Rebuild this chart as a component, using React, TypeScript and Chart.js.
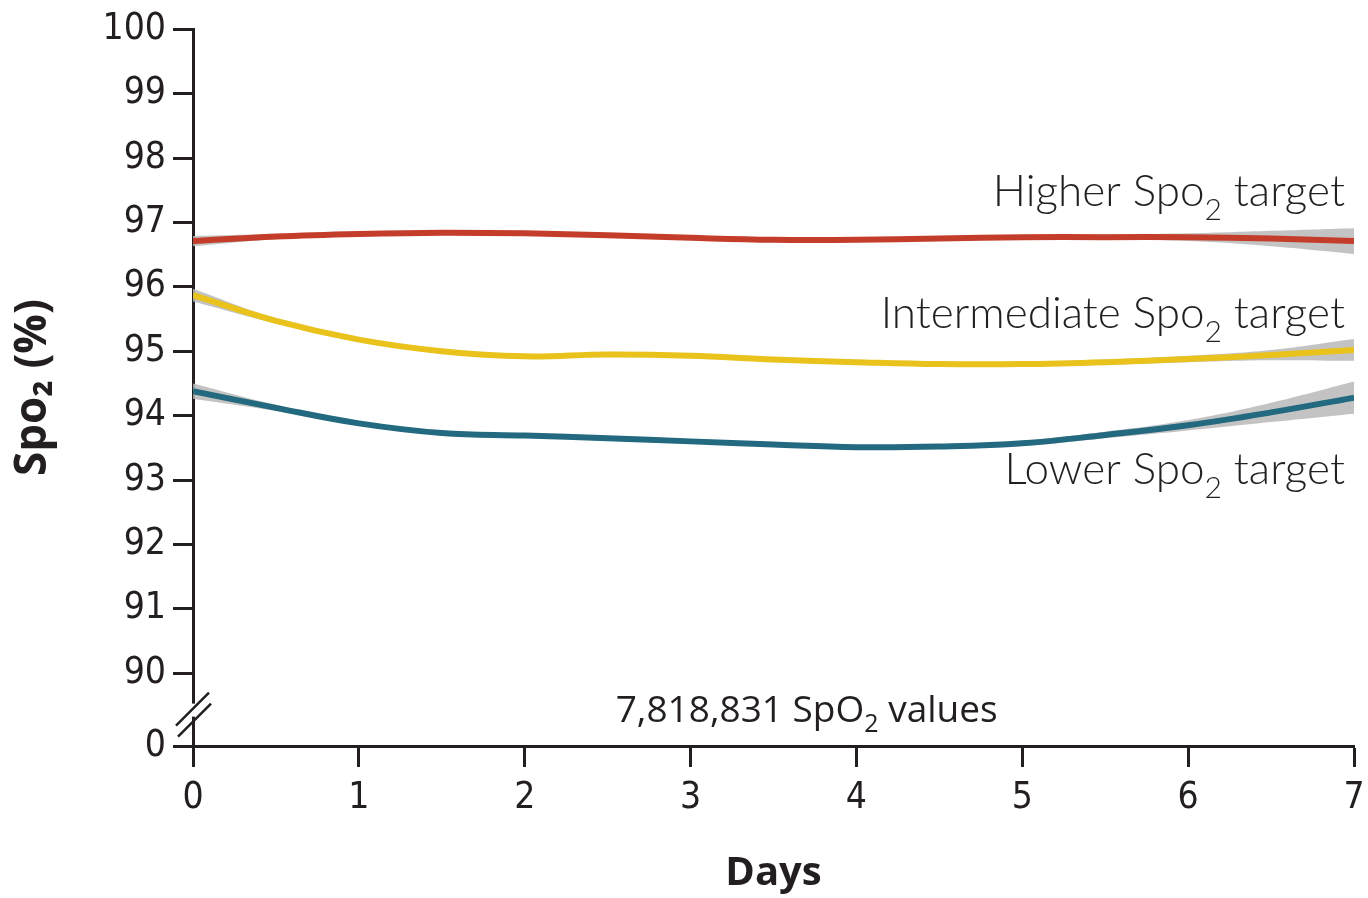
import React, { useEffect, useRef } from "react";
import { Chart, registerables } from "chart.js";

Chart.register(...registerables);

// ---- data ----
const days = [0, 0.5, 1, 1.5, 2, 2.5, 3, 3.5, 4, 4.5, 5, 5.5, 6, 6.5, 7];

const higherMean = [96.71, 96.78, 96.82, 96.84, 96.83, 96.8, 96.76, 96.73, 96.73, 96.75, 96.77, 96.77, 96.77, 96.75, 96.71];
const higherLower = [96.63, 96.74, 96.79, 96.81, 96.8, 96.77, 96.73, 96.7, 96.7, 96.72, 96.74, 96.73, 96.71, 96.63, 96.51];
const higherUpper = [96.79, 96.82, 96.85, 96.87, 96.86, 96.83, 96.79, 96.76, 96.76, 96.78, 96.8, 96.81, 96.83, 96.87, 96.91];

const intermediateMean = [95.87, 95.47, 95.18, 95.0, 94.92, 94.95, 94.93, 94.87, 94.83, 94.8, 94.8, 94.83, 94.88, 94.94, 95.02];
const intermediateLower = [95.77, 95.43, 95.15, 94.97, 94.89, 94.92, 94.9, 94.84, 94.8, 94.77, 94.77, 94.79, 94.83, 94.86, 94.85];
const intermediateUpper = [95.97, 95.51, 95.21, 95.03, 94.95, 94.98, 94.96, 94.9, 94.86, 94.83, 94.83, 94.87, 94.93, 95.02, 95.19];

const lowerMean = [94.38, 94.12, 93.88, 93.73, 93.69, 93.65, 93.6, 93.55, 93.51, 93.52, 93.57, 93.7, 93.85, 94.05, 94.28];
const lowerLower = [94.26, 94.07, 93.85, 93.7, 93.66, 93.62, 93.57, 93.52, 93.48, 93.49, 93.53, 93.65, 93.77, 93.9, 94.03];
const lowerUpper = [94.5, 94.17, 93.91, 93.76, 93.72, 93.68, 93.63, 93.58, 93.54, 93.55, 93.61, 93.75, 93.93, 94.2, 94.53];

const xTickValues = [0, 1, 2, 3, 4, 5, 6, 7];
const yTickValues = [90, 91, 92, 93, 94, 95, 96, 97, 98, 99, 100];
const brokenZeroValue = 88.87; // scale value at which the "0" of the broken axis is drawn
const brokenZeroLabel = "0";

const seriesNames = ["Higher", "Intermediate", "Lower"];
const seriesColors = ["#C43D2A", "#E9C21B", "#23697F"];
const labelAnchors = [97.26, 95.36, 92.94]; // baselines of the right-hand labels (in SpO2 units)
const countText = ["7,818,831 SpO", "2", " values"];

const INK = "#231F20";
const BAND = "rgba(185,185,185,0.85)";

function drawSubText(
  ctx: CanvasRenderingContext2D,
  parts: string[],
  x: number,
  y: number,
  font: string,
  subFont: string,
  subDrop: number,
  align: "right" | "center"
) {
  ctx.save();
  ctx.fillStyle = INK;
  ctx.textBaseline = "alphabetic";
  ctx.textAlign = "left";
  ctx.font = font;
  const w0 = ctx.measureText(parts[0]).width;
  const w2 = ctx.measureText(parts[2]).width;
  ctx.font = subFont;
  const w1 = ctx.measureText(parts[1]).width;
  const total = w0 + w1 + w2;
  let sx = align === "right" ? x - total : x - total / 2;
  ctx.font = font;
  ctx.fillText(parts[0], sx, y);
  sx += w0;
  ctx.font = subFont;
  ctx.fillText(parts[1], sx, y + subDrop);
  sx += w1;
  ctx.font = font;
  ctx.fillText(parts[2], sx, y);
  ctx.restore();
}

const annotatePlugin = {
  id: "annotate",
  afterDraw(chart: any) {
    const { ctx, scales } = chart;
    const x = scales.x;
    const y = scales.y;
    const axisX = x.getPixelForValue(0);
    const y90 = y.getPixelForValue(90);
    const y0 = y.getPixelForValue(brokenZeroValue);
    const mid = (y90 + y0) / 2;

    // axis break
    ctx.save();
    ctx.fillStyle = "#ffffff";
    ctx.fillRect(axisX - 3, mid - 6, 6, 13);
    ctx.strokeStyle = INK;
    ctx.lineWidth = 2.5;
    ctx.beginPath();
    ctx.moveTo(axisX - 17, mid + 16);
    ctx.lineTo(axisX + 16, mid - 17);
    ctx.moveTo(axisX - 15, mid + 27);
    ctx.lineTo(axisX + 18, mid - 6);
    ctx.stroke();
    ctx.restore();

    // right-hand series labels
    const right = x.getPixelForValue(7) - 9;
    seriesNames.forEach((name, i) => {
      drawSubText(
        ctx,
        [name + " Spo", "2", " target"],
        right,
        y.getPixelForValue(labelAnchors[i]),
        "300 44px Lato",
        "300 30px Lato",
        14,
        "right"
      );
    });

    // count text
    drawSubText(
      ctx,
      countText,
      x.getPixelForValue(3.7),
      y.getPixelForValue(89.24),
      "37px 'Open Sans'",
      "25px 'Open Sans'",
      10,
      "center"
    );
  },
};

export default function App() {
  const ref = useRef<HTMLCanvasElement | null>(null);

  useEffect(() => {
    document.body.style.margin = "0";
    const canvas = ref.current;
    if (!canvas) return;

    const pts = (ys: number[]) => days.map((d, i) => ({ x: d, y: ys[i] }));
    const groups = [
      [higherMean, higherLower, higherUpper],
      [intermediateMean, intermediateLower, intermediateUpper],
      [lowerMean, lowerLower, lowerUpper],
    ];
    const datasets: any[] = [];
    groups.forEach(([mean, lo, hi], i) => {
      datasets.push({
        label: seriesNames[i] + " lower CI",
        data: pts(lo),
        borderWidth: 0,
        pointRadius: 0,
        fill: false,
        tension: 0.4,
        order: 2,
      });
      datasets.push({
        label: seriesNames[i] + " upper CI",
        data: pts(hi),
        borderWidth: 0,
        pointRadius: 0,
        backgroundColor: BAND,
        fill: "-1",
        tension: 0.4,
        order: 2,
      });
    });
    groups.forEach(([mean], i) => {
      datasets.push({
        label: seriesNames[i],
        data: pts(mean),
        borderColor: seriesColors[i],
        borderWidth: 6,
        pointRadius: 0,
        fill: false,
        tension: 0.4,
        order: 1,
      });
    });

    const chart = new Chart(canvas, {
      type: "line",
      data: { datasets },
      plugins: [annotatePlugin],
      options: {
        animation: false,
        responsive: true,
        maintainAspectRatio: false,
        layout: { padding: { top: 26, right: 14, left: 0, bottom: 0 } },
        plugins: { legend: { display: false }, tooltip: { enabled: false } },
        scales: {
          x: {
            type: "linear",
            min: 0,
            max: 7,
            afterBuildTicks: (s: any) => {
              s.ticks = xTickValues.map((v) => ({ value: v }));
            },
            afterFit: (s: any) => {
              s.height = 152;
              s.paddingLeft = 0;
              s.paddingRight = 0;
            },
            border: { display: true, color: INK, width: 3 },
            grid: {
              display: true,
              drawOnChartArea: false,
              drawTicks: true,
              tickLength: 21,
              tickColor: INK,
              tickWidth: 3,
            },
            ticks: {
              color: INK,
              padding: 9,
              maxRotation: 0,
              font: { family: "'DejaVu Sans Condensed'", size: 37 },
            },
            title: {
              display: true,
              text: "Days",
              color: INK,
              font: { family: "'Open Sans'", size: 40, weight: "bold" },
              padding: { top: 0, bottom: 0 },
            },
          },
          y: {
            type: "linear",
            min: brokenZeroValue,
            max: 100,
            afterBuildTicks: (s: any) => {
              s.ticks = [{ value: brokenZeroValue }, ...yTickValues.map((v) => ({ value: v }))];
            },
            afterFit: (s: any) => {
              s.width = 193;
            },
            border: { display: true, color: INK, width: 3 },
            grid: {
              display: true,
              drawOnChartArea: false,
              drawTicks: true,
              tickLength: 20,
              tickColor: INK,
              tickWidth: 3,
            },
            ticks: {
              color: INK,
              padding: 7,
              font: { family: "'DejaVu Sans Condensed'", size: 37 },
              callback: (v: any) => (v < 90 ? brokenZeroLabel : String(v)),
            },
            title: {
              display: true,
              text: "Spo₂ (%)",
              color: INK,
              font: { family: "'Open Sans'", size: 44, weight: "bold" },
              padding: { top: 7, bottom: 0 },
            },
          },
        },
      },
    });
    return () => chart.destroy();
  }, []);

  return (
    <div style={{ position: "fixed", left: 0, top: 0, width: 1368, height: 898, background: "#fff" }}>
      <canvas ref={ref} />
    </div>
  );
}
